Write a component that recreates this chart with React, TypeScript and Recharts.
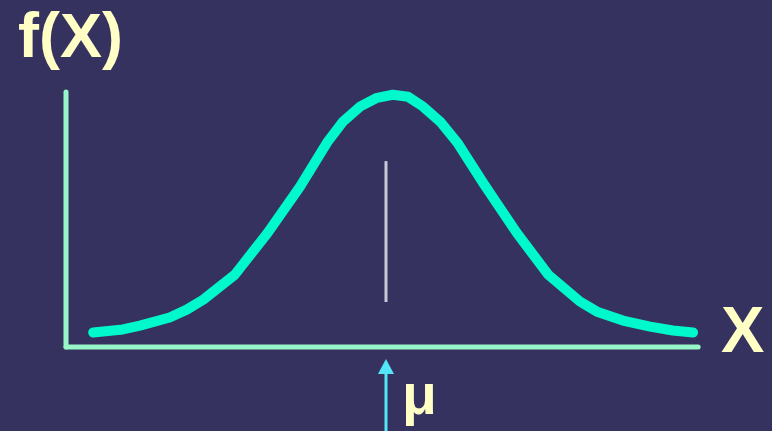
import { LineChart, Line, XAxis, YAxis, ReferenceLine, ReferenceDot } from "recharts";

// points (x in tick units around the mean, y in tick units above the tails)
const curveX = [-4.79, -4.32, -4.05, -3.58, -3.31, -3.05, -2.55, -2.03, -1.52, -1.09, -0.84, -0.57, -0.3, -0.05, 0.19, 0.43, 0.7, 0.97, 1.38, 1.91, 2.41, 2.91, 3.18, 3.59, 4.02, 4.38, 4.7];
const curveY = [0.02, 0.14, 0.29, 0.61, 0.92, 1.31, 2.29, 3.94, 5.75, 7.49, 8.31, 8.9, 9.25, 9.37, 9.29, 8.9, 8.31, 7.49, 5.9, 3.94, 2.29, 1.24, 0.84, 0.49, 0.25, 0.1, 0.02];
const xTicks = [-4, -3, -2, -1, 0, 1, 2, 3, 4, 5];
const yTicks = [1, 2, 3, 4, 5, 6, 7, 8, 9, 10];

const meanX = -0.158;
const xMin = -5.22;
const xMax = 5.3;
const yMin = -0.55;
const yMax = 10.5;
const axisEndX = 4.78;
const axisTopY = 9.48;

const data = curveX.map((x, i) => ({ x, y: curveY[i] }));

const BG = "#36325f";
const AXIS = "#98f7c8";
const CURVE = "#00f9cc";
const CREAM = "#ffffc6";
const ARROW = "#52e6f6";
const DOT = "#8383aa";

const XTick = (props: any) => <rect x={props.x - 1} y={props.y - 12.5} width={3} height={1} fill={DOT} />;
const YTick = (props: any) => <rect x={props.x + 10.5} y={props.y - 1} width={1} height={2} fill={DOT} />;

const ArrowHead = (props: any) => {
  const { cx, cy } = props;
  return <polygon points={`${cx},${cy - 7.5} ${cx - 8},${cy + 7.5} ${cx + 8},${cy + 7.5}`} fill={ARROW} />;
};

// plain svg line so width and caps are applied as given
const seg = (color: string, width: number, cap: "round" | "butt") => (p: any) =>
  <line x1={p.x1} y1={p.y1} x2={p.x2} y2={p.y2} stroke={color} strokeWidth={width} strokeLinecap={cap} />;

const font = '"Liberation Sans", Arial, sans-serif';

export default function App() {
  return (
    <div style={{ position: "fixed", left: 0, top: 0, width: 772, height: 431, background: BG, overflow: "hidden" }}>
      <LineChart width={772} height={431} data={data} margin={{ top: 66, right: 41, bottom: 84, left: 66 }}>
        <XAxis
          type="number"
          dataKey="x"
          domain={[xMin, xMax]}
          ticks={xTicks}
          height={0}
          axisLine={false}
          tickLine={false}
          tickSize={0}
          tickMargin={0}
          tick={<XTick />}
          allowDataOverflow
        />
        <YAxis
          type="number"
          domain={[yMin, yMax]}
          ticks={yTicks}
          width={0}
          axisLine={false}
          tickLine={false}
          tickSize={0}
          tickMargin={0}
          tick={<YTick />}
          allowDataOverflow
        />
        <ReferenceLine
          segment={[{ x: xMin, y: yMin }, { x: axisEndX, y: yMin }]}
          shape={seg(AXIS, 5, "round")}
          ifOverflow="visible"
        />
        <ReferenceLine
          segment={[{ x: xMin, y: yMin }, { x: xMin, y: axisTopY }]}
          shape={seg(AXIS, 5, "round")}
          ifOverflow="visible"
        />
        <ReferenceLine
          segment={[{ x: meanX, y: 1.22 }, { x: meanX, y: 6.76 }]}
          shape={seg("#c9c8d8", 3, "butt")}
          ifOverflow="visible"
        />
        <ReferenceLine
          segment={[{ x: meanX, y: -1.55 }, { x: meanX, y: -4 }]}
          shape={seg(ARROW, 3, "butt")}
          ifOverflow="visible"
        />
        <ReferenceDot x={meanX} y={-1.32} shape={<ArrowHead />} ifOverflow="visible" />
        <Line
          type="linear"
          dataKey="y"
          stroke={CURVE}
          strokeWidth={10}
          strokeLinecap="round"
          strokeLinejoin="round"
          dot={false}
          activeDot={false}
          isAnimationActive={false}
        />
      </LineChart>
      <div style={{ position: "absolute", left: 18, top: 0, color: CREAM, fontFamily: font, fontWeight: 700, fontSize: 63, lineHeight: "71px" }}>
        f(X)
      </div>
      <div style={{ position: "absolute", left: 721, top: 295, color: CREAM, fontFamily: font, fontWeight: 700, fontSize: 65, lineHeight: "70px" }}>
        X
      </div>
      <div style={{ position: "absolute", left: 402, top: 362, color: CREAM, fontFamily: font, fontWeight: 700, fontSize: 57, lineHeight: "64px" }}>
        μ
      </div>
    </div>
  );
}
